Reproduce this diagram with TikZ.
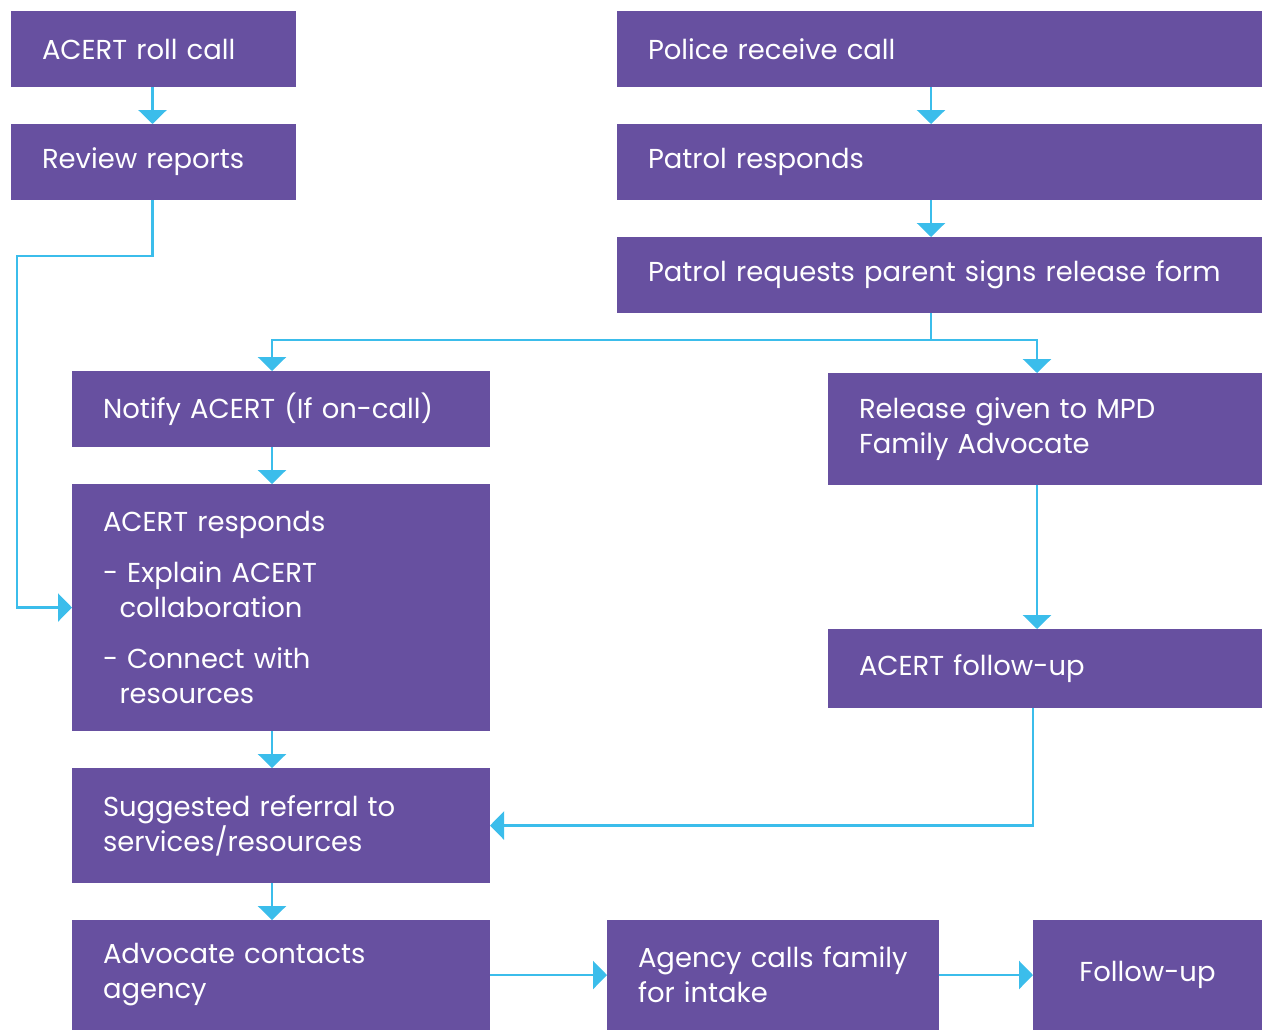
\documentclass[tikz,border=0pt]{standalone}
\usepackage{fontspec}
\setmainfont{Poppins}
\usetikzlibrary{arrows.meta,positioning}
\definecolor{acpurple}{RGB}{103,80,160}
\definecolor{acblue}{RGB}{59,189,235}
\tikzstyle{box} = [rectangle, fill=acpurple, text=white, align=left, inner xsep=0.62cm, inner ysep=0pt, outer sep=0pt, font=\fontsize{15.6pt}{19.9pt}\selectfont]
\tikzstyle{small} = [box, text width=4.46cm, minimum height=1.52cm]
\tikzstyle{wide} = [box, text width=11.66cm, minimum height=1.52cm]
\tikzstyle{mid} = [box, text width=7.12cm]
\tikzstyle{side} = [box, text width=7.44cm]
\tikzstyle{arrow} = [draw=acblue, line width=0.05cm, -{Triangle[width=0.56cm,length=0.28cm]}]

\begin{document}
\begin{tikzpicture}[node distance=0.74cm]
   \useasboundingbox (0,0) rectangle (25.24,-20.6);
   % left column
   \node (roll) [small, anchor=north west] at (0.22,-0.22) {ACERT roll call};
   \node (review) [small, below=of roll] {Review reports};
   % right column
   \node (police) [wide, anchor=north west] at (12.34,-0.22) {Police receive call};
   \node (patrol) [wide, below=of police] {Patrol responds};
   \node (request) [wide, below=of patrol] {Patrol requests parent signs release form};
   % middle
   \node (notify) [mid, minimum height=1.52cm, anchor=north west] at (1.44,-7.42) {Notify ACERT (If on-call)};
   \node (responds) [mid, minimum height=4.94cm, below=of notify] {ACERT responds\\[0.32cm]
      -~Explain ACERT\\\hspace*{0.33cm}collaboration\\[0.32cm]
      -~Connect with\\\hspace*{0.33cm}resources};
   \node (suggested) [mid, minimum height=2.3cm, below=of responds] {Suggested referral to\\services/resources};
   \node (advocate) [mid, minimum height=2.2cm, below=of suggested] {Advocate contacts\\agency};
   \node (release) [side, minimum height=2.24cm, anchor=north west] at (16.56,-7.46) {Release given to MPD\\Family Advocate};
   \node (fup) [side, minimum height=1.58cm, anchor=north west] at (16.56,-12.58) {ACERT follow-up};
   % bottom row
   \node (agency) [box, text width=5.4cm, minimum height=2.2cm, anchor=north west] at (12.14,-18.4) {Agency calls family\\for intake};
   \node (follow) [box, text width=3.34cm, align=center, minimum height=2.2cm, anchor=north west] at (20.66,-18.4) {Follow-up};

   \draw [arrow] ([xshift=-0.02cm]roll.south) -- ([xshift=-0.02cm]review.north);
   \draw [arrow] ([xshift=-0.02cm]review.south) -- ++(0,-1.12) -| ([xshift=-1.1cm]responds.west) -- (responds.west);
   \draw [arrow] ([xshift=-0.17cm]police.south) -- ([xshift=-0.17cm]patrol.north);
   \draw [arrow] ([xshift=-0.17cm]patrol.south) -- ([xshift=-0.17cm]request.north);
   \draw [arrow] ([xshift=-0.17cm]request.south) -- ++(0,-0.54) -| ([xshift=-0.18cm]notify.north);
   \draw [arrow] ([xshift=-0.17cm]request.south) -- ++(0,-0.54) -| ([xshift=-0.16cm]release.north);
   \draw [arrow] ([xshift=-0.18cm]notify.south) -- ([xshift=-0.18cm]responds.north);
   \draw [arrow] ([xshift=-0.16cm]release.south) -- ([xshift=-0.16cm]fup.north);
   \draw [arrow] ([xshift=-0.18cm]responds.south) -- ([xshift=-0.18cm]suggested.north);
   \draw [arrow] ([xshift=-0.24cm]fup.south) |- (suggested.east);
   \draw [arrow] ([xshift=-0.18cm]suggested.south) -- ([xshift=-0.18cm]advocate.north);
   \draw [arrow] (advocate.east) -- (advocate.east -| agency.west);
   \draw [arrow] (agency.east) -- (follow.west);
\end{tikzpicture}
\end{document}
